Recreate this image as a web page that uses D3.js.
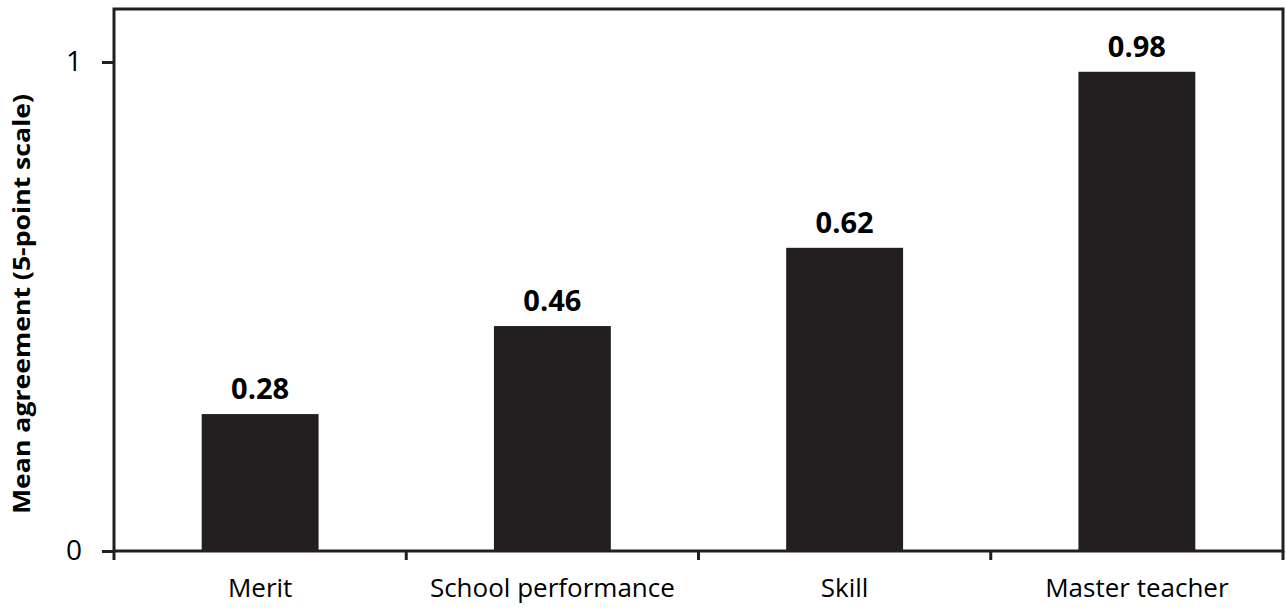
<!DOCTYPE html>
<html>
<head>
<meta charset="utf-8">
<script src="https://cdn.jsdelivr.net/npm/d3@7"></script>
<style>
  html, body { margin: 0; padding: 0; background: #fff; }
  svg { display: block; font-family: "Open Sans", "Noto Sans", sans-serif; }
</style>
</head>
<body>
<svg id="chart" width="1286" height="609"></svg>
<script>
// Mean agreement by pay-plan type
const categories = ["Merit", "School performance", "Skill", "Master teacher"];
const values = [0.28, 0.46, 0.62, 0.98];
const valueLabels = ["0.28", "0.46", "0.62", "0.98"];
const yTicks = [0, 1];
const yTitle = "Mean agreement (5-point scale)";

const ink = "#231f20";
const svg = d3.select("#chart");
const plot = { left: 114, right: 1283, top: 9, bottom: 551 };

const x = d3.scaleBand()
  .domain(categories)
  .range([plot.left, plot.right])
  .paddingInner(0.6)
  .paddingOuter(0.3);

const y = d3.scaleLinear()
  .domain([0, 1])
  .range([plot.bottom, 62]);

// frame around the plot area
svg.append("rect")
  .attr("x", plot.left).attr("y", plot.top)
  .attr("width", plot.right - plot.left)
  .attr("height", plot.bottom - plot.top)
  .attr("fill", "none")
  .attr("stroke", ink)
  .attr("stroke-width", 3);

// bars
svg.append("g").selectAll("rect")
  .data(categories)
  .join("rect")
  .attr("x", d => x(d))
  .attr("width", x.bandwidth())
  .attr("y", (d, i) => y(values[i]))
  .attr("height", (d, i) => y(0) - y(values[i]))
  .attr("fill", ink);

// value labels above bars
svg.append("g").selectAll("text")
  .data(categories)
  .join("text")
  .attr("x", d => x(d) + x.bandwidth() / 2)
  .attr("y", (d, i) => y(values[i]) - 15)
  .attr("text-anchor", "middle")
  .style("font-size", "29px")
  .attr("font-weight", "bold")
  .attr("fill", "#000")
  .text((d, i) => valueLabels[i]);

// y axis
const yAxis = d3.axisLeft(y).tickValues(yTicks).tickSize(12).tickPadding(20)
  .tickFormat(d3.format("d"));
const gy = svg.append("g").attr("transform", `translate(${plot.left},0)`).call(yAxis);
gy.attr("font-family", null).attr("font-size", null);
gy.select(".domain").remove();
gy.selectAll(".tick line").attr("stroke", ink).attr("stroke-width", 3);
gy.selectAll(".tick text").style("font-size", "28px").attr("fill", "#000");
// the zero tick continues a little below the baseline
svg.append("line")
  .attr("x1", plot.left).attr("x2", plot.left)
  .attr("y1", y(0)).attr("y2", y(0) + 9)
  .attr("stroke", ink).attr("stroke-width", 3);

// x axis: ticks sit on the boundaries between categories
const bandEdges = d3.range(1, categories.length + 1)
  .map(i => plot.left + i * (plot.right - plot.left) / categories.length);
svg.append("g").selectAll("line")
  .data(bandEdges)
  .join("line")
  .attr("x1", d => d).attr("x2", d => d)
  .attr("y1", y(0)).attr("y2", y(0) + 9)
  .attr("stroke", ink).attr("stroke-width", 3);

svg.append("g").selectAll("text")
  .data(categories)
  .join("text")
  .attr("x", d => x(d) + x.bandwidth() / 2)
  .attr("y", 597)
  .attr("text-anchor", "middle")
  .style("font-size", "26px")
  .attr("fill", "#000")
  .text(d => d);

// y axis title
svg.append("text")
  .attr("transform", `translate(30,304) rotate(-90)`)
  .attr("text-anchor", "middle")
  .style("font-size", "23px")
  .attr("font-weight", "bold")
  .attr("textLength", 420)
  .attr("lengthAdjust", "spacingAndGlyphs")
  .attr("fill", "#000")
  .text(yTitle);
</script>
</body>
</html>
